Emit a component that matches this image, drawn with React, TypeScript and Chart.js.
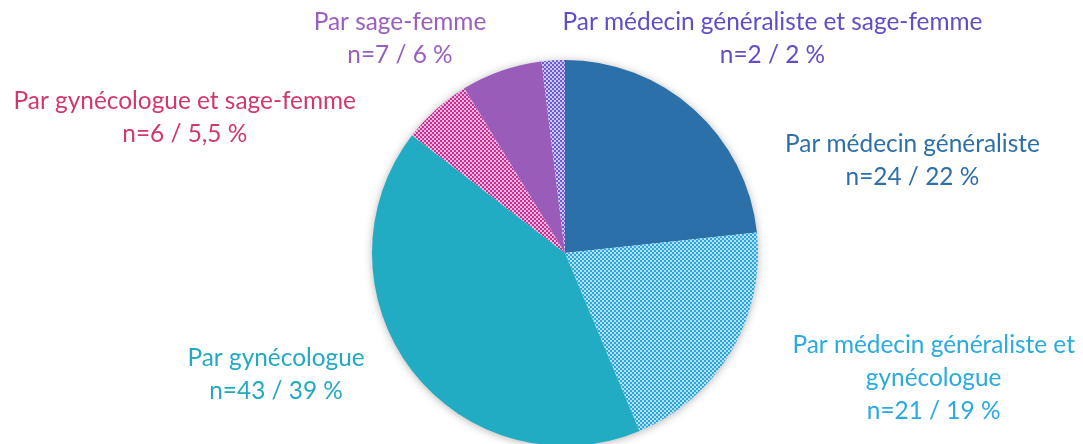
import React, { useEffect, useRef } from "react";
import { Chart, registerables } from "chart.js";

Chart.register(...registerables);

const categories = [
  "Par médecin généraliste",
  "Par médecin généraliste et gynécologue",
  "Par gynécologue",
  "Par gynécologue et sage-femme",
  "Par sage-femme",
  "Par médecin généraliste et sage-femme",
];
const counts = [24, 21, 43, 6, 7, 2];
const percentLabels = ["22 %", "19 %", "39 %", "5,5 %", "6 %", "2 %"];
const labelLines = [
  ["Par médecin généraliste"],
  ["Par médecin généraliste et", "gynécologue"],
  ["Par gynécologue"],
  ["Par gynécologue et sage-femme"],
  ["Par sage-femme"],
  ["Par médecin généraliste et sage-femme"],
];

const baseColors = ["#2B70A9", "#2BA6DD", "#21ACC3", "#CC2E97", "#9A5CB9", "#6A5BD0"];
const patterned = [false, true, false, true, false, true];
const textColors = ["#2E6FA7", "#2AAAE0", "#23A9C2", "#D1386E", "#9A5FBE", "#5E4FC6"];

// label block offsets relative to pie center, in units of radius
const labelOffsets = [
  [1.8, -0.48],
  [1.91, 0.65],
  [-1.497, 0.63],
  [-1.97, -0.7],
  [-0.855, -1.11],
  [1.075, -1.11],
];

function makePattern(color: string): CanvasPattern | string {
  const c = document.createElement("canvas");
  c.width = 4;
  c.height = 4;
  const x = c.getContext("2d");
  if (!x) return color;
  x.fillStyle = "#ffffff";
  x.fillRect(0, 0, 4, 4);
  x.fillStyle = color;
  x.fillRect(0, 0, 2, 2);
  x.fillRect(2, 2, 2, 2);
  x.globalAlpha = 0.35;
  x.fillRect(2, 0, 2, 2);
  x.fillRect(0, 2, 2, 2);
  const p = x.createPattern(c, "repeat");
  return p || color;
}

export default function App() {
  const ref = useRef<HTMLCanvasElement>(null);
  useEffect(() => {
    document.body.style.margin = "0";
    document.body.style.overflow = "hidden";
    const canvas = ref.current;
    if (!canvas) return;
    const fills = baseColors.map((c, i) => (patterned[i] ? makePattern(c) : c));

    const shadowPlugin = {
      id: "pieShadow",
      beforeDatasetsDraw(chart: any) {
        const meta = chart.getDatasetMeta(0);
        const arc = meta.data[0];
        if (!arc) return;
        const { x, y, outerRadius } = arc.getProps(["x", "y", "outerRadius"], true);
        const ctx = chart.ctx;
        ctx.save();
        ctx.shadowColor = "rgba(0,0,0,0.35)";
        ctx.shadowBlur = 10;
        ctx.shadowOffsetY = 1;
        ctx.fillStyle = "#ffffff";
        ctx.beginPath();
        ctx.arc(x, y, outerRadius - 1, 0, Math.PI * 2);
        ctx.fill();
        ctx.restore();
      },
    };

    const labelPlugin = {
      id: "outerLabels",
      afterDatasetsDraw(chart: any) {
        const meta = chart.getDatasetMeta(0);
        const arc = meta.data[0];
        if (!arc) return;
        const { x, y, outerRadius } = arc.getProps(["x", "y", "outerRadius"], true);
        const ctx = chart.ctx;
        ctx.save();
        ctx.font = "24.4px Lato";
        ctx.textAlign = "center";
        ctx.textBaseline = "middle";
        const lh = 33;
        counts.forEach((n, i) => {
          const lines = [...labelLines[i], `n=${n} / ${percentLabels[i]}`];
          const cx = x + labelOffsets[i][0] * outerRadius;
          const cy = y + labelOffsets[i][1] * outerRadius;
          ctx.fillStyle = textColors[i];
          const top = cy - ((lines.length - 1) * lh) / 2;
          lines.forEach((t, k) => ctx.fillText(t, cx, top + k * lh));
        });
        ctx.restore();
      },
    };

    const chart = new Chart(canvas, {
      type: "pie",
      data: {
        labels: categories,
        datasets: [
          {
            data: counts,
            backgroundColor: fills as any,
            borderWidth: 0,
          },
        ],
      },
      options: {
        animation: false,
        responsive: false,
        layout: { padding: { left: 372, right: 325, top: 60, bottom: 24 } },
        plugins: {
          legend: { display: false },
          tooltip: { enabled: false },
        },
      },
      plugins: [shadowPlugin, labelPlugin],
    });
    return () => chart.destroy();
  }, []);
  return (
    <div style={{ position: "fixed", left: 0, top: 0, width: 1083, height: 470, background: "#fff" }}>
      <canvas ref={ref} width={1083} height={470} style={{ width: 1083, height: 470 }} />
    </div>
  );
}
